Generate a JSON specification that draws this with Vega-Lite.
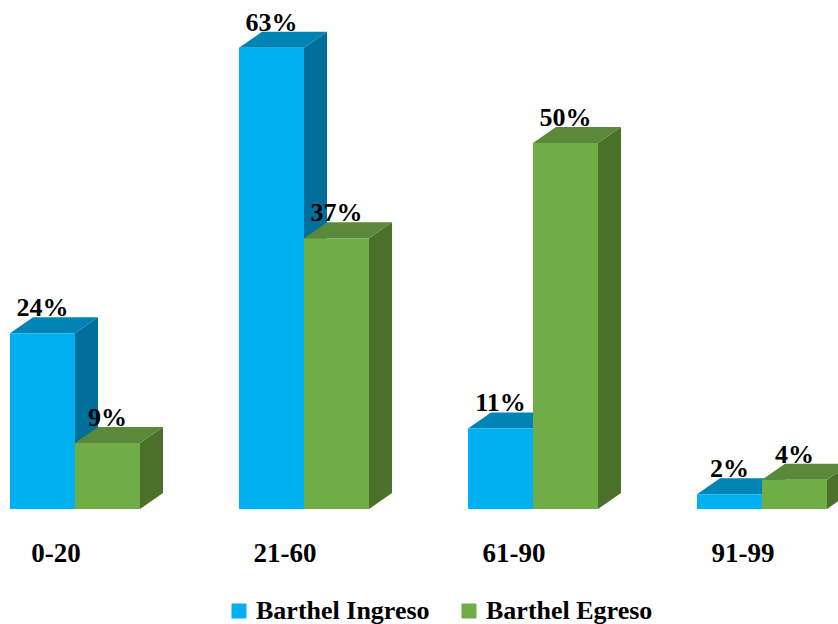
{
  "$schema": "https://vega.github.io/schema/vega-lite/v6.json",
  "width": 838,
  "height": 509,
  "autosize": {"type": "none"},
  "padding": {"left": 0, "top": 0, "right": 0, "bottom": 115},
  "background": "white",
  "config": {"view": {"stroke": null}},
  "data": {
    "values": [
      {"grupo": "0-20", "serie": "Barthel Ingreso", "valor": 24},
      {"grupo": "21-60", "serie": "Barthel Ingreso", "valor": 63},
      {"grupo": "61-90", "serie": "Barthel Ingreso", "valor": 11},
      {"grupo": "91-99", "serie": "Barthel Ingreso", "valor": 2},
      {"grupo": "0-20", "serie": "Barthel Egreso", "valor": 9},
      {"grupo": "21-60", "serie": "Barthel Egreso", "valor": 37},
      {"grupo": "61-90", "serie": "Barthel Egreso", "valor": 50},
      {"grupo": "91-99", "serie": "Barthel Egreso", "valor": 4}
    ]
  },
  "transform": [
    {"calculate": "indexof(['0-20','21-60','61-90','91-99'], datum.grupo)", "as": "gi"},
    {"calculate": "datum.serie === 'Barthel Ingreso' ? 0 : 1", "as": "si"},
    {"calculate": "10 + 229 * datum.gi + 65 * datum.si", "as": "xa"},
    {"calculate": "datum.xa + 65", "as": "xb"},
    {"calculate": "datum.gi + '_' + datum.si", "as": "bar"},
    {"calculate": "datum.valor + '%'", "as": "etiqueta"}
  ],
  "layer": [
    {
      "transform": [
        {"calculate": "[0, 1]", "as": "p"},
        {"flatten": ["p"]},
        {"calculate": "datum.xb + 23 * datum.p", "as": "sx"},
        {"calculate": "datum.valor + 2.186 * datum.p", "as": "sy"},
        {"calculate": "2.186 * datum.p", "as": "sy2"}
      ],
      "mark": {"type": "area", "clip": true, "orient": "vertical"},
      "encoding": {
        "x": {"field": "sx", "type": "quantitative", "scale": {"domain": [0, 838], "nice": false, "zero": false}, "axis": null},
        "y": {"field": "sy", "type": "quantitative", "scale": {"domain": [0, 69.54], "nice": false}, "axis": null},
        "y2": {"field": "sy2"},
        "detail": {"field": "bar"},
        "color": {"condition": {"test": "datum.si === 0", "value": "#006f99"}, "value": "#4a7029"}
      }
    },
    {
      "transform": [
        {"calculate": "[0, 1]", "as": "p"},
        {"flatten": ["p"]},
        {"calculate": "datum.xa + 23 * datum.p", "as": "tx"},
        {"calculate": "datum.xb + 23 * datum.p", "as": "tx2"},
        {"calculate": "datum.valor + 2.186 * datum.p", "as": "ty"}
      ],
      "mark": {"type": "area", "clip": true, "orient": "horizontal"},
      "encoding": {
        "x": {"field": "tx", "type": "quantitative"},
        "x2": {"field": "tx2"},
        "y": {"field": "ty", "type": "quantitative"},
        "detail": {"field": "bar"},
        "color": {"condition": {"test": "datum.si === 0", "value": "#0084b6"}, "value": "#5a8a39"}
      }
    },
    {
      "mark": {"type": "bar"},
      "encoding": {
        "x": {"field": "xa", "type": "quantitative"},
        "x2": {"field": "xb"},
        "y": {"field": "valor", "type": "quantitative"},
        "y2": {"datum": 0},
        "color": {
          "field": "serie",
          "type": "nominal",
          "scale": {"domain": ["Barthel Ingreso", "Barthel Egreso"], "range": ["#00b0f0", "#70ad47"]},
          "legend": {
            "orient": "none",
            "legendX": 226,
            "legendY": 598,
            "direction": "horizontal",
            "title": null,
            "symbolType": "square",
            "symbolSize": 225,
            "symbolStrokeWidth": 0,
            "labelFont": "Liberation Serif",
            "labelFontSize": 26,
            "labelFontWeight": "bold",
            "labelColor": "black",
            "labelOffset": 4,
            "labelLimit": 0,
            "columnPadding": 26,
            "padding": 0
          }
        }
      }
    },
    {
      "transform": [
        {"calculate": "(datum.xa + datum.xb) / 2", "as": "xm"},
        {"calculate": "datum.valor + 2.186", "as": "yl"}
      ],
      "mark": {"type": "text", "font": "Liberation Serif", "fontSize": 26, "fontWeight": "bold", "color": "black", "baseline": "alphabetic", "align": "center", "dy": -1},
      "encoding": {
        "x": {"field": "xm", "type": "quantitative"},
        "y": {"field": "yl", "type": "quantitative"},
        "text": {"field": "etiqueta"}
      }
    },
    {
      "transform": [
        {"filter": "datum.si === 0"},
        {"calculate": "10 + 229 * datum.gi + 46", "as": "xc"}
      ],
      "mark": {"type": "text", "font": "Liberation Serif", "fontSize": 27, "fontWeight": "bold", "color": "black", "baseline": "alphabetic", "align": "center", "dy": 53},
      "encoding": {
        "x": {"field": "xc", "type": "quantitative"},
        "y": {"datum": 0, "type": "quantitative"},
        "text": {"field": "grupo"}
      }
    }
  ]
}
